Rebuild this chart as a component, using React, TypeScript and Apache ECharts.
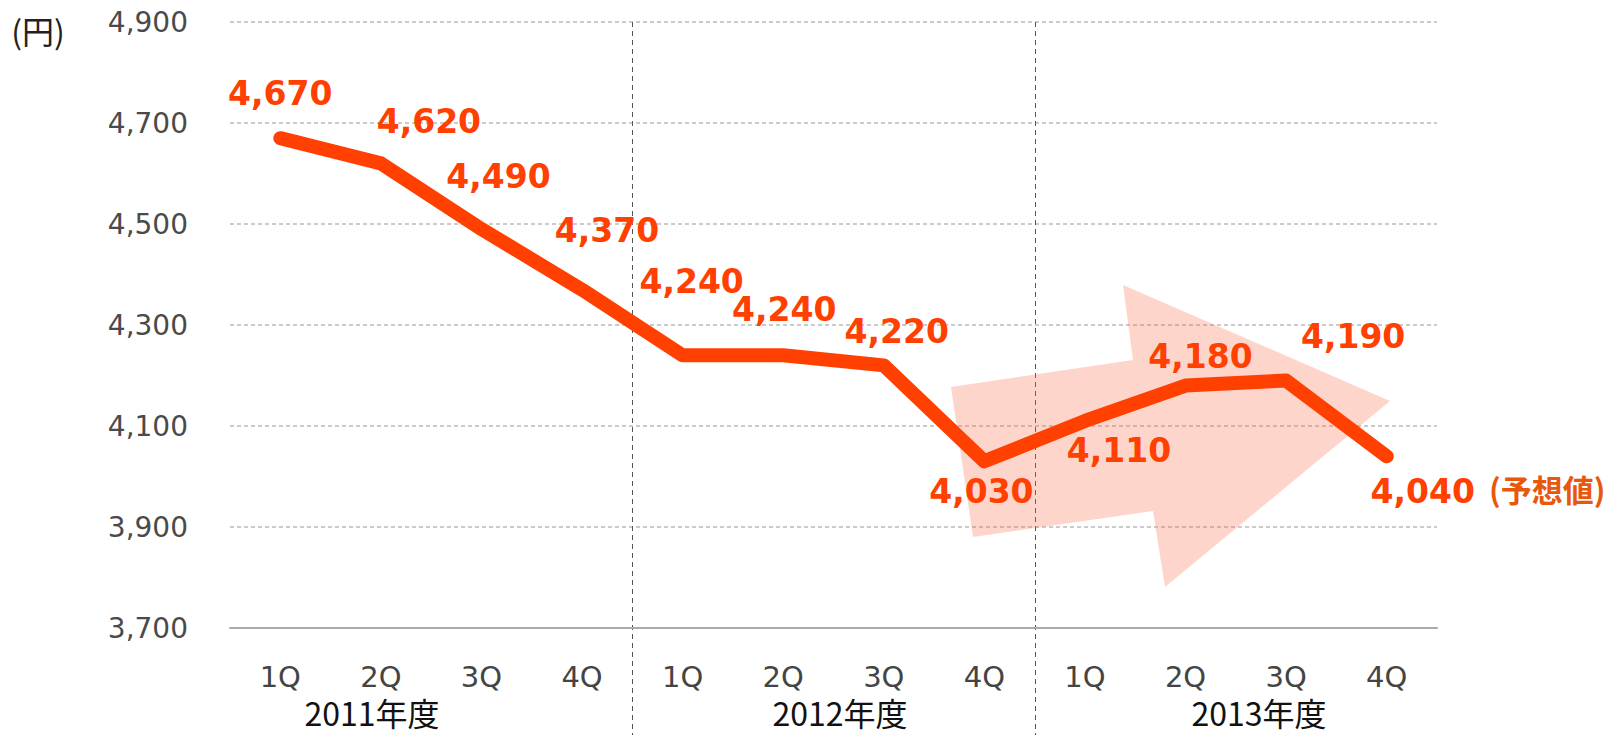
import React, { useEffect, useRef } from "react";
import * as echarts from "echarts";

const quarters = ["1Q", "2Q", "3Q", "4Q", "1Q", "2Q", "3Q", "4Q", "1Q", "2Q", "3Q", "4Q"];
const prices = [4670, 4620, 4490, 4370, 4240, 4240, 4220, 4030, 4110, 4180, 4190, 4040];
const fiscalYears = ["2011年度", "2012年度", "2013年度"];
const unitLabel = "(円)";
const forecastNote = "(予想値)";
const yMin = 3700;
const yMax = 4900;
const yStep = 200;

// layout constants (pixel offsets of each data label from its point)
const labelOffsets = [
  [0, -45], [48, -42], [17, -53], [25, -59], [9, -74], [1, -46],
  [13, -34], [-3, 30], [34, 30], [15, -29], [67, -44], [36, 35],
];
const yearLabelX = [372, 840, 1259];

const fmt = (v: number) => v.toLocaleString("en-US");

export default function App() {
  const ref = useRef<HTMLDivElement>(null);
  useEffect(() => {
    if (!ref.current) return;
    const chart = echarts.init(ref.current, null, { renderer: "svg" });
    const orange = "#FF4000";
    const option: any = {
      animation: false,
      backgroundColor: "#ffffff",
      grid: [
        { left: 230, right: 175, top: 22, bottom: 107, containLabel: false },
        // separator band: spans exactly the middle fiscal year (categories 5-8)
        { left: 632, right: 577, top: 22, bottom: 0, containLabel: false },
      ],
      xAxis: [
        {
          type: "category",
          gridIndex: 0,
          data: quarters,
          boundaryGap: true,
          axisLine: { show: true, lineStyle: { color: "#aaaaaa", width: 2 } },
          axisTick: { show: false },
          splitLine: { show: false },
          axisLabel: {
            interval: 0,
            margin: 34,
            color: "#444444",
            fontFamily: "DejaVu Sans",
            fontSize: 29,
          },
        },
        {
          type: "value",
          gridIndex: 1,
          min: 0,
          max: 1,
          interval: 1,
          axisLine: { show: false },
          axisTick: { show: false },
          axisLabel: { show: false },
          splitLine: { show: true, lineStyle: { color: "#555555", type: [5, 4], width: 1 } },
        },
      ],
      yAxis: [
        {
          type: "value",
          gridIndex: 0,
          min: yMin,
          max: yMax,
          interval: yStep,
          axisLine: { show: false },
          axisTick: { show: false },
          splitLine: { show: true, lineStyle: { color: "#bbbbbb", type: [4, 3], width: 1.5 } },
          axisLabel: {
            margin: 42,
            color: "#4a4a4a",
            fontFamily: "DejaVu Sans",
            fontSize: 28,
            formatter: (v: number) => fmt(v),
          },
        },
        {
          type: "value",
          gridIndex: 1,
          min: 0,
          max: 1,
          show: false,
        },
      ],
      graphic: [
        {
          type: "polygon",
          z: 1,
          shape: {
            points: [
              [951, 387], [1133, 360], [1123, 285], [1390, 401],
              [1165, 587], [1153, 511], [973, 537],
            ],
          },
          style: { fill: "rgba(250,100,60,0.27)" },
        },
        {
          type: "text",
          x: 38,
          y: 30,
          style: {
            text: unitLabel,
            fontFamily: "Noto Sans CJK JP",
            fontSize: 32,
            fill: "#222222",
            textAlign: "center",
            textVerticalAlign: "middle",
          },
        },
        ...fiscalYears.map((t, i) => ({
          type: "text",
          x: yearLabelX[i],
          y: 712,
          style: {
            text: t,
            fontFamily: "Noto Sans CJK JP",
            fontSize: 32,
            lineHeight: 32,
            fill: "#111111",
            textAlign: "center",
            textVerticalAlign: "middle",
          },
        })),
        {
          type: "text",
          x: 1489,
          y: 488,
          z: 10,
          style: {
            text: forecastNote,
            fontFamily: "Noto Sans CJK JP",
            fontWeight: "bold",
            fontSize: 31,
            fill: "#E8580C",
            textAlign: "left",
            textVerticalAlign: "middle",
          },
        },
      ],
      series: [
        {
          type: "line",
          xAxisIndex: 0,
          yAxisIndex: 0,
          data: prices.map((v, i) => ({
            value: v,
            label: { offset: labelOffsets[i] },
          })),
          z: 3,
          symbol: "circle",
          symbolSize: 2,
          showSymbol: true,
          itemStyle: { color: orange },
          lineStyle: { color: orange, width: 14, cap: "round", join: "round" },
          label: {
            show: true,
            position: "inside",
            color: orange,
            fontFamily: "DejaVu Sans",
            fontWeight: "bold",
            fontSize: 33,
            formatter: (p: any) => fmt(p.value),
          },
        },
      ],
    };
    chart.setOption(option);
    return () => chart.dispose();
  }, []);
  return (
    <div
      ref={ref}
      style={{ position: "fixed", left: 0, top: 0, width: 1612, height: 735 }}
    />
  );
}
